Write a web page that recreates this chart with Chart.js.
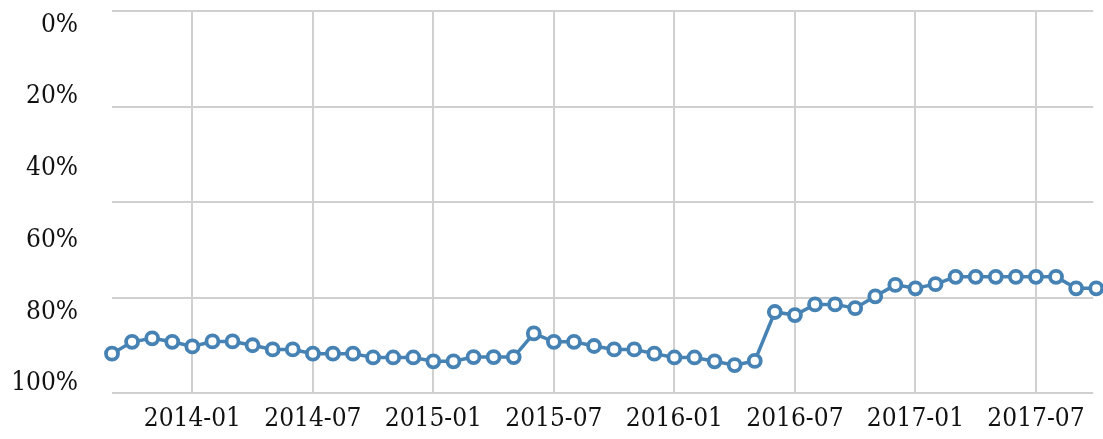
<!DOCTYPE html>
<html>
<head>
<meta charset="utf-8">
<title>Completion rate</title>
<script src="https://cdn.jsdelivr.net/npm/chart.js@4.4.1/dist/chart.umd.min.js"></script>
<style>
    html, body { margin: 0; padding: 0; background: #fff; }
    #wrap { width: 1103px; height: 439px; }
</style>
</head>
<body>
<div id="wrap"><canvas id="rateChart" width="1103" height="439"></canvas></div>
<script>
// one point per month
const months = [
    "2013-09", "2013-10", "2013-11", "2013-12",
    "2014-01", "2014-02", "2014-03", "2014-04", "2014-05", "2014-06",
    "2014-07", "2014-08", "2014-09", "2014-10", "2014-11", "2014-12",
    "2015-01", "2015-02", "2015-03", "2015-04", "2015-05", "2015-06",
    "2015-07", "2015-08", "2015-09", "2015-10", "2015-11", "2015-12",
    "2016-01", "2016-02", "2016-03", "2016-04", "2016-05", "2016-06",
    "2016-07", "2016-08", "2016-09", "2016-10", "2016-11", "2016-12",
    "2017-01", "2017-02", "2017-03", "2017-04", "2017-05", "2017-06",
    "2017-07", "2017-08", "2017-09", "2017-10"
];

const rateValues = [
    89.7, 86.6, 85.7, 86.6,
    87.8, 86.5, 86.5, 87.5, 88.6, 88.6,
    89.7, 89.7, 89.7, 90.7, 90.7, 90.7,
    91.7, 91.7, 90.6, 90.6, 90.6, 84.4,
    86.6, 86.6, 87.7, 88.6, 88.6, 89.7,
    90.7, 90.7, 91.7, 92.7, 91.6, 78.8,
    79.6, 76.8, 76.8, 77.8, 74.7, 71.7,
    72.6, 71.5, 69.6, 69.6, 69.6, 69.6,
    69.6, 69.6, 72.6, 72.6
];

const xTickLabels = ["2014-01", "2014-07", "2015-01", "2015-07", "2016-01", "2016-07", "2017-01", "2017-07"];
const yTickLabels = [0, 20, 40, 60, 80, 100];
const yGridSteps = [0, 25, 50, 75, 100];

const FONT = { family: "'DejaVu Serif Condensed', 'DejaVu Serif', serif", size: 26 };
const GRID = "#d0d0d0";
const BLUE = "#4682b4";

const points = rateValues.map((v, i) => ({ x: i, y: v }));

// keep the axes from pushing the plot area around
function noPadding(axis) {
    axis.paddingTop = 0;
    axis.paddingBottom = 0;
    axis.paddingLeft = 0;
    axis.paddingRight = 0;
}

new Chart(document.getElementById("rateChart").getContext("2d"), {
    type: "line",
    data: {
        datasets: [{
            data: points,
            borderColor: BLUE,
            borderWidth: 3.5,
            pointRadius: 6,
            pointBorderWidth: 3.8,
            pointBorderColor: BLUE,
            pointBackgroundColor: "#fff",
            tension: 0,
            clip: false
        }]
    },
    options: {
        responsive: false,
        animation: false,
        layout: { padding: { top: 11, right: 0, left: 0, bottom: 0 } },
        plugins: {
            legend: { display: false },
            tooltip: { enabled: false }
        },
        scales: {
            x: {
                type: "linear",
                min: 0,
                max: 48.85,
                border: { display: false },
                grid: { color: GRID, lineWidth: 2, drawTicks: false },
                afterBuildTicks: axis => {
                    axis.ticks = xTickLabels.map(l => ({ value: months.indexOf(l) }));
                },
                afterFit: axis => {
                    axis.height = 46;
                    noPadding(axis);
                },
                ticks: {
                    font: FONT,
                    color: "#111",
                    padding: 11,
                    maxRotation: 0,
                    autoSkip: false,
                    callback: v => months[v]
                }
            },
            y: {
                position: "left",
                min: 0,
                max: 100,
                reverse: true,
                border: { display: false },
                grid: { color: GRID, lineWidth: 2, drawTicks: false },
                afterBuildTicks: axis => {
                    axis.ticks = yGridSteps.map(v => ({ value: v }));
                },
                afterFit: axis => {
                    axis.width = 0;
                    noPadding(axis);
                },
                ticks: { display: false }
            },
            yLab: {
                position: "left",
                min: -3.9,
                max: 102.6,
                reverse: true,
                border: { display: false },
                grid: { display: false, drawTicks: false },
                afterBuildTicks: axis => {
                    axis.ticks = yTickLabels.map(v => ({ value: v }));
                },
                afterFit: axis => {
                    axis.width = 112;
                    noPadding(axis);
                },
                ticks: {
                    font: FONT,
                    color: "#111",
                    padding: 34,
                    callback: v => v + "%"
                }
            }
        }
    }
});
</script>
</body>
</html>
